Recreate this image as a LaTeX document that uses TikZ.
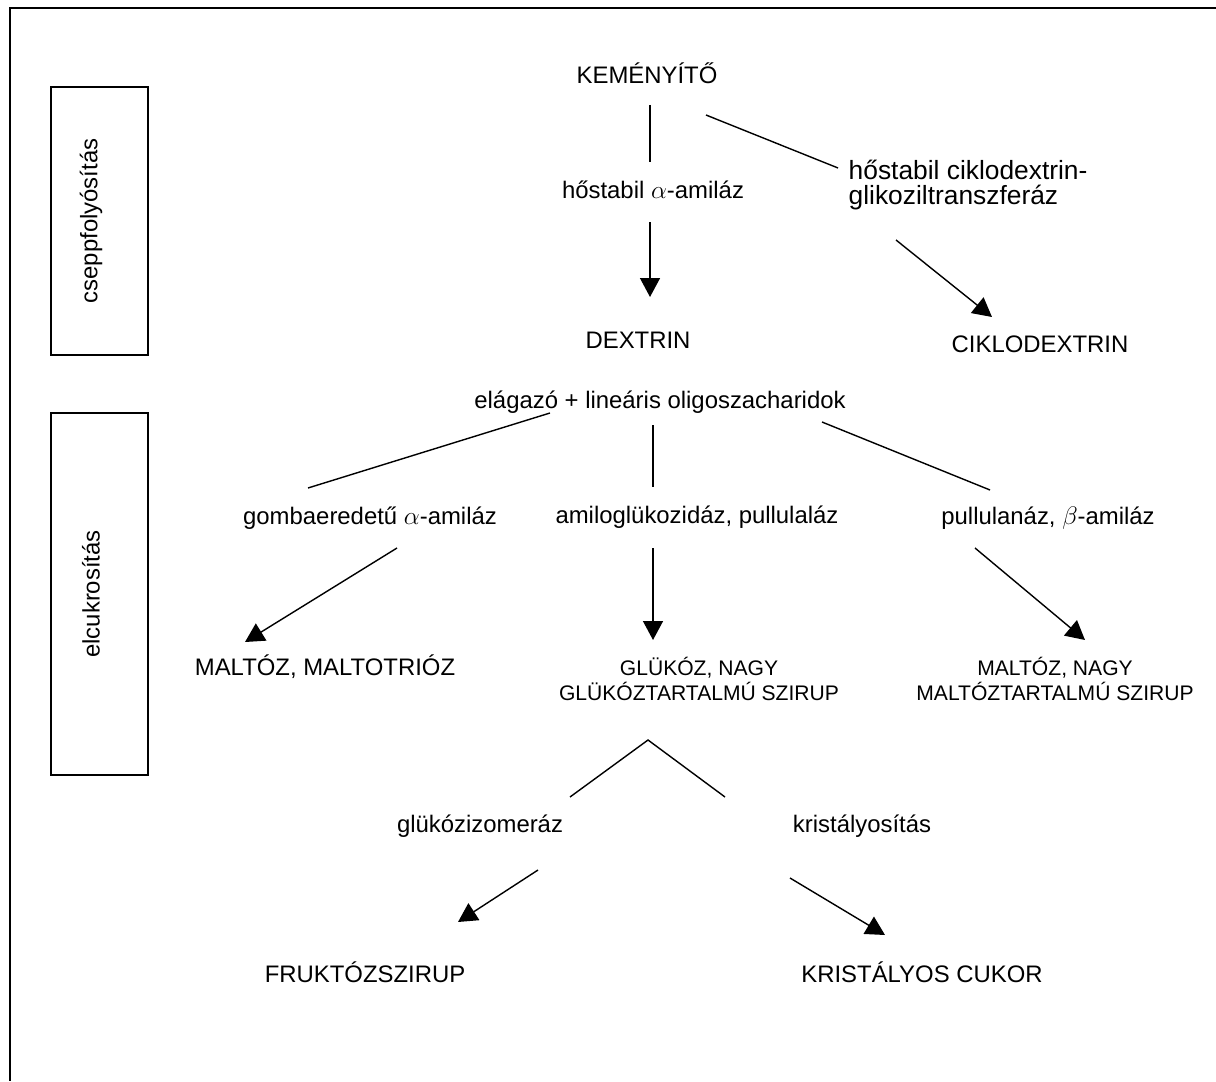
\documentclass[tikz,border=0pt]{standalone}
\usepackage{fontspec}
\setmainfont{Liberation Sans}
\usetikzlibrary{arrows.meta}
\begin{document}
\begin{tikzpicture}[x=0.02cm, y=-0.02cm, line width=0.8pt,
  every node/.style={font=\fontsize{13.6}{14.2}\selectfont, inner sep=0pt, align=center},
  arr/.style={-{Triangle[length=0.38cm, width=0.4cm]}},
  phase/.style={draw, line width=0.8pt},
  small/.style={font=\fontsize{12}{14.2}\selectfont},
  large/.style={font=\fontsize{15}{14.2}\selectfont}]
\useasboundingbox (0,0) rectangle (1216,1081);
\draw[line width=1.5pt] (1216,8) -- (10,8) -- (10,1081);
% phase boxes
\node[phase, minimum width=1.94cm, minimum height=5.36cm] (B_0) at (99.5,221) {};
\node[rotate=90] (T_0) at (91,221) {cseppfolyósítás};
\node[phase, minimum width=1.94cm, minimum height=7.24cm] (B_1) at (99.5,594) {};
\node[rotate=90] (T_1) at (91,594) {elcukrosítás};
% liquefaction
\node (P_0_0) at (647,73) {KEMÉNYÍTŐ};
\node (P_1_0) at (653,190) {hőstabil $\alpha$-amiláz};
\node[large, anchor=west, align=left] (P_1_1) at (848,185.5) {hőstabil ciklodextrin-\\glikoziltranszferáz};
\node (P_2_0) at (638,340) {DEXTRIN};
\node (P_2_1) at (1040,344) {CIKLODEXTRIN};
\coordinate (C_0_0) at (650,105);
\coordinate (C_0_1) at (650,162);
\coordinate (C_0_2) at (650,222);
\coordinate (C_0_3) at (650,297);
\draw (C_0_0) -- (C_0_1);
\draw[arr] (C_0_2) -- (C_0_3);
\coordinate (C_1_0) at (706,115);
\coordinate (C_1_1) at (838,168);
\coordinate (C_1_2) at (896,240);
\coordinate (C_1_3) at (992,317);
\draw (C_1_0) -- (C_1_1);
\draw[arr] (C_1_2) -- (C_1_3);
% saccharification
\node (P_3_0) at (660,402) {elágazó + lineáris oligoszacharidok};
\node (P_4_0) at (370,518) {gombaeredetű $\alpha$-amiláz};
\node (P_4_1) at (697,517) {amiloglükozidáz, pullulaláz};
\node (P_4_2) at (1048,518) {pullulanáz, $\beta$-amiláz};
\node (P_5_0) at (325,667) {MALTÓZ, MALTOTRIÓZ};
\node[small] (P_5_1) at (699,679) {GLÜKÓZ, NAGY\\GLÜKÓZTARTALMÚ SZIRUP};
\node[small] (P_5_2) at (1055,679) {MALTÓZ, NAGY\\MALTÓZTARTALMÚ SZIRUP};
\coordinate (C_2_0) at (550,413);
\coordinate (C_2_1) at (308,488);
\coordinate (C_2_2) at (397,548);
\coordinate (C_2_3) at (245,642);
\draw (C_2_0) -- (C_2_1);
\draw[arr] (C_2_2) -- (C_2_3);
\coordinate (C_3_0) at (653,425);
\coordinate (C_3_1) at (653,487);
\coordinate (C_3_2) at (653,548);
\coordinate (C_3_3) at (653,640);
\draw (C_3_0) -- (C_3_1);
\draw[arr] (C_3_2) -- (C_3_3);
\coordinate (C_4_0) at (822,422);
\coordinate (C_4_1) at (990,490);
\coordinate (C_4_2) at (975,548);
\coordinate (C_4_3) at (1085,640);
\draw (C_4_0) -- (C_4_1);
\draw[arr] (C_4_2) -- (C_4_3);
% glucose processing
\node (P_6_0) at (480,826) {glükózizomeráz};
\node (P_6_1) at (862,826) {kristályosítás};
\node (P_7_0) at (365,972) {FRUKTÓZSZIRUP};
\node (P_7_1) at (922,972) {KRISTÁLYOS CUKOR};
\coordinate (C_5_0) at (570,797);
\coordinate (C_5_1) at (648,740);
\coordinate (C_5_2) at (725,797);
\draw (C_5_0) -- (C_5_1) -- (C_5_2);
\coordinate (C_6_0) at (538,870);
\coordinate (C_6_1) at (458,922);
\draw[arr] (C_6_0) -- (C_6_1);
\coordinate (C_7_0) at (790,878);
\coordinate (C_7_1) at (885,935);
\draw[arr] (C_7_0) -- (C_7_1);
\end{tikzpicture}
\end{document}
